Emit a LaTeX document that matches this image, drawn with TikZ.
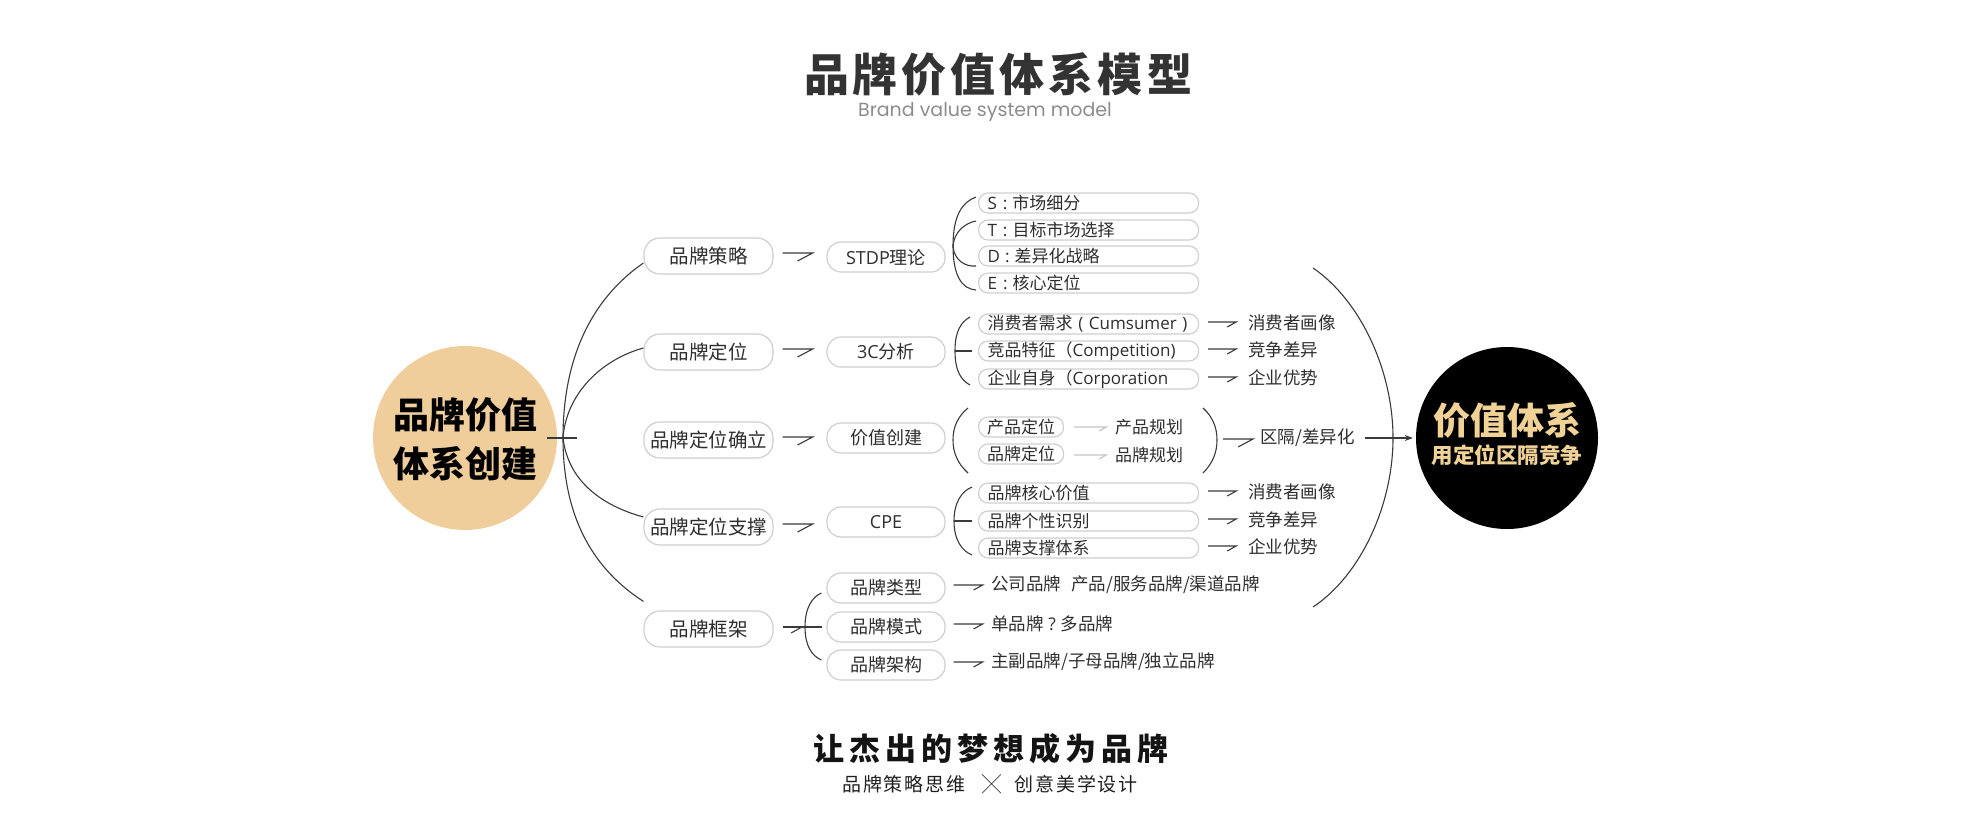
\documentclass[tikz,border=0pt]{standalone}
\usepackage{fontspec}
\newfontfamily\cjk{Noto Sans CJK SC}
\newfontfamily\lat{Open Sans}
\newfontfamily\pop{Poppins}
\usetikzlibrary{arrows.meta,calc}
\definecolor{txt}{HTML}{2E2E2E}
\definecolor{lnc}{HTML}{3A3A3A}
\definecolor{bdc}{HTML}{CFCFCF}
\definecolor{sand}{HTML}{F0CE9B}
\definecolor{gold}{HTML}{F1D296}
\definecolor{subc}{HTML}{8C8C8C}
\definecolor{lite}{HTML}{C4C4C4}
\definecolor{ttl}{HTML}{333333}
\begin{document}
\begin{tikzpicture}[x=1pt,y=-1pt,
  ln/.style={draw=lnc, line width=1.1pt},
  liteln/.style={draw=lite, line width=1.1pt},
  l1/.style={draw=bdc, line width=1.2pt, fill=white, rounded corners=16pt, minimum width=129pt, minimum height=36pt, inner sep=0pt, text=txt, font=\cjk\fontsize{19.5}{22}\selectfont},
  l2/.style={l1, rounded corners=14pt, minimum width=118pt, minimum height=30pt, font=\cjk\fontsize{18}{20}\selectfont},
  sb/.style={draw=bdc, line width=1.2pt, fill=white, rounded corners=9.5pt, minimum height=20pt, inner ysep=0pt, inner xsep=9pt, text width=202pt, align=left, anchor=west, text=txt, font=\cjk\fontsize{17}{19}\selectfont},
  pb/.style={draw=bdc, line width=1.2pt, fill=white, rounded corners=9.5pt, minimum height=20pt, minimum width=85pt, inner ysep=0pt, inner xsep=8pt, anchor=west, text=txt, font=\cjk\fontsize{17}{19}\selectfont},
  res/.style={anchor=west, inner sep=0pt, text=txt, font=\cjk\fontsize{17.5}{19}\selectfont},
]
\useasboundingbox (0,0) rectangle (1980,825);

% titles
\node[text=ttl, font=\cjk\bfseries\fontsize{45}{45}\selectfont, inner sep=0pt] (title) at (998,74)
  {品\kern4pt 牌\kern4pt 价\kern4pt 值\kern4pt 体\kern4pt 系\kern4pt 模\kern4pt 型};
\node[text=subc, font=\pop\fontsize{19}{20}\selectfont, inner sep=0pt] (subtitle) at (985,112) {Brand value system model};

% circles
\node[circle, fill=sand, minimum size=184pt, inner sep=0pt] (lc) at (465,438) {};
\node[font=\cjk\bfseries\fontsize{36}{36}\selectfont, inner sep=0pt, text=black] (lt1) at (465,415) {品牌价值};
\node[font=\cjk\bfseries\fontsize{36}{36}\selectfont, inner sep=0pt, text=black] (lt2) at (465,464) {体系创建};

\node[circle, fill=black, minimum size=182pt, inner sep=0pt] (rc) at (1507,438) {};
\node[text=gold, font=\cjk\bfseries\fontsize{37}{37}\selectfont, inner sep=0pt] (rt1) at (1507,420) {价值体系};
\node[text=gold, font=\cjk\bfseries\fontsize{21.5}{22}\selectfont, inner sep=0pt] (rt2) at (1507,455) {用定位区隔竞争};

% level 1
\node[l1] (b1) at (708.5,256) {品牌策略};
\node[l1] (b2) at (708.5,352) {品牌定位};
\node[l1] (b3) at (708.5,440) {品牌定位确立};
\node[l1] (b4) at (708.5,527) {品牌定位支撑};
\node[l1] (b5) at (708.5,629) {品牌框架};

% level 2
\node[l2] (c1) at (886,257) {{\lat STDP}理论};
\node[l2] (c2) at (886,352) {{\lat 3C}分析};
\node[l2] (c3) at (886,438) {价值创建};
\node[l2] (c4) at (886,522) {{\lat CPE}\hspace{20pt}};
\node[l2] (c5) at (886,588) {品牌类型};
\node[l2] (c6) at (886,627) {品牌模式};
\node[l2] (c7) at (886,665) {品牌架构};

% STDP items
\node[sb] (s1) at (978,203) {{\lat S}\hspace{6pt}{\lat :}\hspace{5pt}市场细分};
\node[sb] (s2) at (978,230) {{\lat T}\hspace{6pt}{\lat :}\hspace{5pt}目标市场选择};
\node[sb] (s3) at (978,256) {{\lat D}\hspace{5pt}{\lat :}\hspace{5pt}差异化战略};
\node[sb] (s4) at (978,283) {{\lat E}\hspace{6pt}{\lat :}\hspace{5pt}核心定位};

% 3C items
\node[sb] (t1) at (978,324) {消费者需求{\lat\ (\ Cumsumer\ )}};
\node[sb] (t2) at (978,351) {竞品特征（{\lat Competition)}};
\node[sb] (t3) at (978,379) {企业自身（{\lat Corporation}};
\node[res] (r1) at (1248,323) {消费者画像};
\node[res] (r2) at (1248,350) {竞争差异};
\node[res] (r3) at (1248,378) {企业优势};

% value creation
\node[pb] (p1) at (978,427) {产品定位};
\node[pb] (p2) at (978,454) {品牌定位};
\node[res, font=\cjk\fontsize{17}{19}\selectfont] (q1) at (1115,427) {产品规划};
\node[res, font=\cjk\fontsize{17}{19}\selectfont] (q2) at (1115,455) {品牌规划};
\node[res] (dif) at (1260,438) {区隔/差异化};

% CPE items
\node[sb] (u1) at (978,493) {品牌核心价值};
\node[sb] (u2) at (978,521) {品牌个性识别};
\node[sb] (u3) at (978,548) {品牌支撑体系};
\node[res] (w1) at (1248,492) {消费者画像};
\node[res] (w2) at (1248,520) {竞争差异};
\node[res] (w3) at (1248,547) {企业优势};

% framework items
\node[res] (f1) at (991,585) {公司品牌\hspace{10pt}产品/服务品牌/渠道品牌};
\node[res] (f2) at (991,624) {单品牌\makebox[17pt]{\lat ?}多品牌};
\node[res] (f3) at (991,662) {主副品牌/子母品牌/独立品牌};

% bottom
\node[font=\cjk\bfseries\fontsize{31}{31}\selectfont, text=black!92, inner sep=0pt] (slogan) at (991,749)
  {让\kern5pt 杰\kern5pt 出\kern5pt 的\kern5pt 梦\kern5pt 想\kern5pt 成\kern5pt 为\kern5pt 品\kern5pt 牌};
\node[font=\cjk\fontsize{19}{19}\selectfont, text=black!88, inner sep=0pt] (tag) at (990,784)
  {品\kern1.7pt 牌\kern1.7pt 策\kern1.7pt 略\kern1.7pt 思\kern1.7pt 维\kern17pt ╳\kern14pt 创\kern1.7pt 意\kern1.7pt 美\kern1.7pt 学\kern1.7pt 设\kern1.7pt 计};

% main arcs
\coordinate (jl) at (563,438);
\draw[ln] ([xshift=-10pt]lc.east) -- ([xshift=20pt]lc.east);
\draw[ln] (jl) .. controls (563,360) and (590,300) .. ([shift={(0,7)}]b1.west);
\draw[ln] (jl) .. controls (566,395) and (600,360) .. ([shift={(0,-4)}]b2.west);
\draw[ln] (jl) .. controls (568,480) and (600,505) .. ([shift={(0,-10)}]b4.west);
\draw[ln] (jl) .. controls (563,520) and (595,570) .. ([shift={(0,-9)}]b5.north west);

% harpoons level1 -> level2
\foreach \a in {b1,b2,b3,b4}{
  \draw[ln] ([shift={(9,-3)}]\a.east) -- ++(30,0) -- ++(-15,8);
}
\coordinate (jF) at (805,627);
\draw[ln] ([shift={(9,-2)}]b5.east) -- (jF);
\draw[ln] ($(jF)+(-3,0)$) -- ++(-11,6);

% STDP bracket
\coordinate (jS) at (953,246);
\draw[ln] (jS) .. controls (953,216) and (962,202) .. ([shift={(-2,-6)}]s1.west);
\draw[ln] (jS) .. controls (954,232) and (965,223) .. ([shift={(-2,-9)}]s2.west);
\draw[ln] (jS) .. controls (954,260) and (965,267) .. ([shift={(-2,10)}]s3.west);
\draw[ln] (jS) .. controls (953,276) and (962,289) .. ([shift={(-2,7)}]s4.west);

% 3C bracket
\coordinate (j3) at (955,351);
\draw[ln] (j3) .. controls (955,331) and (961,322) .. ([shift={(-8,-7)}]t1.west);
\draw[ln] (j3) .. controls (955,371) and (961,380) .. ([shift={(-8,6)}]t3.west);
\draw[ln] (j3) -- ([xshift=-6pt]t2.west);
\foreach \a/\b in {t1/r1,t2/r2,t3/r3,u1/w1,u2/w2,u3/w3}{
  \draw[ln] ([shift={(9,-2)}]\a.east) -- ++(28,0) -- ++(-9,5);
}

% value creation brackets
\coordinate (j4) at (953,440);
\draw[ln] ([shift={(-10,-19)}]p1.west) .. controls (957,417) and (953,428) .. (j4)
   .. controls (953,452) and (957,463) .. ([shift={(-10,19)}]p2.west);
\coordinate (jR) at (1217,440);
\draw[ln] (1203,408) .. controls (1213,417) and (1217,428) .. (jR)
   .. controls (1217,452) and (1213,463) .. (1203,473);
\draw[ln] ([xshift=6pt]jR) ++(0,-1) -- ++(30,0) -- ++(-15,8);
\draw[liteln] ([shift={(10,0)}]p1.east) -- ++(32,0) -- ++(-7,4);
\draw[liteln] ([shift={(10,1)}]p2.east) -- ++(32,0) -- ++(-7,4);

% CPE bracket
\coordinate (jC) at (954,521);
\draw[ln] (jC) .. controls (954,502) and (962,491) .. ([shift={(-6,-6)}]u1.west);
\draw[ln] (jC) .. controls (954,540) and (962,551) .. ([shift={(-6,7)}]u3.west);
\draw[ln] (jC) -- ([xshift=-6pt]u2.west);

% framework bracket
\draw[ln] (jF) .. controls (805,608) and (812,597) .. ([shift={(-5,5)}]c5.west);
\draw[ln] (jF) .. controls (805,646) and (812,656) .. ([shift={(-5,-5)}]c7.west);
\draw[ln] (jF) -- ([xshift=-4pt]c6.west);
\foreach \a in {c5,c6,c7}{
  \draw[ln] ([shift={(8,-3)}]\a.east) -- ++(29,0) -- ++(-9,5);
}

% big right arc and arrow
\coordinate (at) at (1313,268);
\coordinate (ab) at (1313,607);
\draw[ln] (at) .. controls (1360,300) and (1393,370) .. (1393,438) .. controls (1393,506) and (1360,576) .. (ab);
\draw[ln, -{Stealth[length=8pt,width=6pt]}] ([xshift=10pt]dif.east) -- ([xshift=-3pt]rc.west);
\end{tikzpicture}
\end{document}
